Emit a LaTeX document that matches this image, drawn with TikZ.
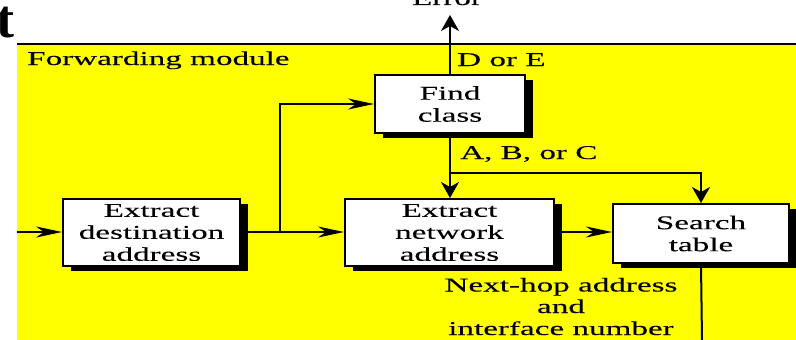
\documentclass[tikz,border=0pt]{standalone}
\usepackage{fontspec}
\setmainfont{Liberation Serif}[FakeStretch=1.7, FakeBold=0.12]
\newfontfamily\headfont{Liberation Serif Bold}
\usetikzlibrary{arrows.meta,shadows}

\definecolor{modyellow}{RGB}{255,255,0}

\tikzset{
  wire/.style={line width=2pt},
  harrow/.style={wire, -{Stealth[length=26pt, width=11pt, inset=8pt]}},
  varrow/.style={wire, -{Stealth[length=16pt, width=18pt, inset=5pt]}},
  stepbox/.style={draw=black, line width=2pt, fill=white, align=center,
    inner sep=0pt, font=\fontsize{19.5}{22}\selectfont,
    drop shadow={shadow xshift=8pt, shadow yshift=-5pt, fill=black, opacity=1}},
  lbl/.style={inner sep=0pt, font=\fontsize{19.5}{22}\selectfont},
}

\begin{document}
\begin{tikzpicture}[x=1pt, y=-1pt]
\useasboundingbox (0,0) rectangle (796,340);

% module background and its top rule
\fill[modyellow] (17,44) rectangle (796,340);
\draw[line width=1.6pt] (17,44) -- (796,44);

% partly visible heading letter
\node[inner sep=0pt, anchor=base east, font=\headfont\fontsize{54}{58}\selectfont] (head) at (15,37) {t};

\node[lbl, anchor=base west] (modname) at (27,65) {Forwarding module};

% processing steps
\node[stepbox, minimum width=177pt, minimum height=67pt] (dest) at (151.5,232.5) {Extract\\destination\\address};
\node[stepbox, minimum width=150pt, minimum height=58pt] (find) at (450,104) {Find\\class};
\node[stepbox, minimum width=209pt, minimum height=67pt] (net) at (449.5,232.5) {Extract\\network\\address};
\node[stepbox, minimum width=176pt, minimum height=59pt] (search) at (701,233.5) {Search\\table};

% error exit, only its lower part shows
\node[lbl, anchor=base] (err) at (447,5) {Error};

% free ends and junctions
\coordinate (in) at (17,232);
\coordinate (j1) at (280,232);
\coordinate (j2) at (450,173);
\coordinate (up) at (450,15);
\coordinate (out) at (702,340);

% connectors
\draw[harrow] (in) -- (dest.west |- in);
\draw[wire] (dest.east |- j1) -- (j1);
\draw[harrow] (j1) |- (find.west);
\draw[harrow] (j1) -- (net.west |- j1);
\draw[varrow] (find.north) -- (up);
\draw[varrow] (find.south) -- (find.south |- net.north);
\draw[varrow] (j2) -| (search.north);
\draw[harrow] (net.east |- j1) -- (search.west |- j1);
\draw[wire] (search.south) -- (out);

% branch labels
\node[lbl, anchor=base west] (de) at (457,66) {D or E};
\node[lbl, anchor=base west] (abc) at (460,159) {A, B, or C};
\node[lbl, anchor=base] (nh1) at (561,291.5) {Next-hop address};
\node[lbl, anchor=base] (nh2) at (561,313) {and};
\node[lbl, anchor=base] (nh3) at (561,335) {interface number};
\end{tikzpicture}
\end{document}
